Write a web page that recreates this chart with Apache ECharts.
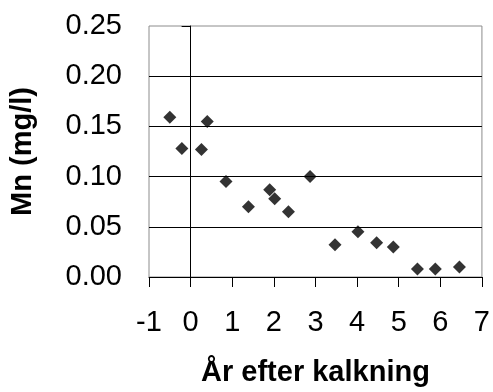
<!DOCTYPE html>
<html>
<head>
<meta charset="utf-8">
<script src="https://cdn.jsdelivr.net/npm/echarts@6/dist/echarts.min.js"></script>
<style>
html,body{margin:0;padding:0;background:#fff;}
#chart{width:493px;height:392px;}
</style>
</head>
<body>
<div id="chart"></div>
<script>
// Data
const yearsAfterLiming = [-0.5, -0.21, 0.26, 0.4, 0.85, 1.39, 1.9, 2.02, 2.35, 2.87, 3.47, 4.02, 4.47, 4.87, 5.45, 5.88, 6.46];
const mnValues = [0.159, 0.128, 0.127, 0.155, 0.095, 0.070, 0.087, 0.078, 0.065, 0.100, 0.032, 0.045, 0.034, 0.030, 0.008, 0.008, 0.010];
const xTitle = 'År efter kalkning';
const yTitle = 'Mn (mg/l)';

const points = yearsAfterLiming.map((x, i) => [x, mnValues[i]]);
const font = 'Liberation Sans, Arial, sans-serif';

const chart = echarts.init(document.getElementById('chart'), null, {renderer: 'canvas'});
chart.setOption({
  animation: false,
  backgroundColor: '#ffffff',
  grid: {
    left: 145, right: 8, top: 26, bottom: 113,
    show: true, borderColor: '#8c8c8c', borderWidth: 1, backgroundColor: 'transparent'
  },
  xAxis: {
    type: 'value', min: -1, max: 7, interval: 1,
    name: xTitle, nameLocation: 'middle', nameGap: 81,
    nameTextStyle: {fontFamily: font, fontSize: 29, fontWeight: 'bold', color: '#000'},
    axisLine: {show: true, onZero: false, lineStyle: {color: '#000', width: 1}},
    axisTick: {show: true, length: 10, lineStyle: {color: '#000'}},
    axisLabel: {fontFamily: font, fontSize: 29, color: '#000', margin: 31},
    splitLine: {show: false}
  },
  yAxis: [{
    type: 'value', min: 0, max: 0.25, interval: 0.05, position: 'left',
    name: yTitle, nameLocation: 'middle', nameGap: 112, nameRotate: 90,
    nameTextStyle: {fontFamily: font, fontSize: 29, fontWeight: 'bold', color: '#000'},
    axisLine: {show: false, onZero: false},
    axisTick: {show: false},
    axisLabel: {fontFamily: font, fontSize: 29, color: '#000', margin: 27,
      formatter: v => v.toFixed(2)},
    splitLine: {show: true, showMinLine: false, showMaxLine: false,
      lineStyle: {color: '#000', width: 1}}
  }, {
    type: 'value', min: 0, max: 0.25, interval: 0.05, position: 'left',
    axisLine: {show: true, onZero: true, lineStyle: {color: '#000', width: 1}},
    axisTick: {show: true, length: 9, lineStyle: {color: '#000'}},
    axisLabel: {show: false},
    splitLine: {show: false}
  }],
  series: [{
    type: 'scatter',
    data: points,
    symbol: 'diamond',
    symbolSize: 13,
    itemStyle: {color: '#000'},
    z: 5
  }]
});
</script>
</body>
</html>
